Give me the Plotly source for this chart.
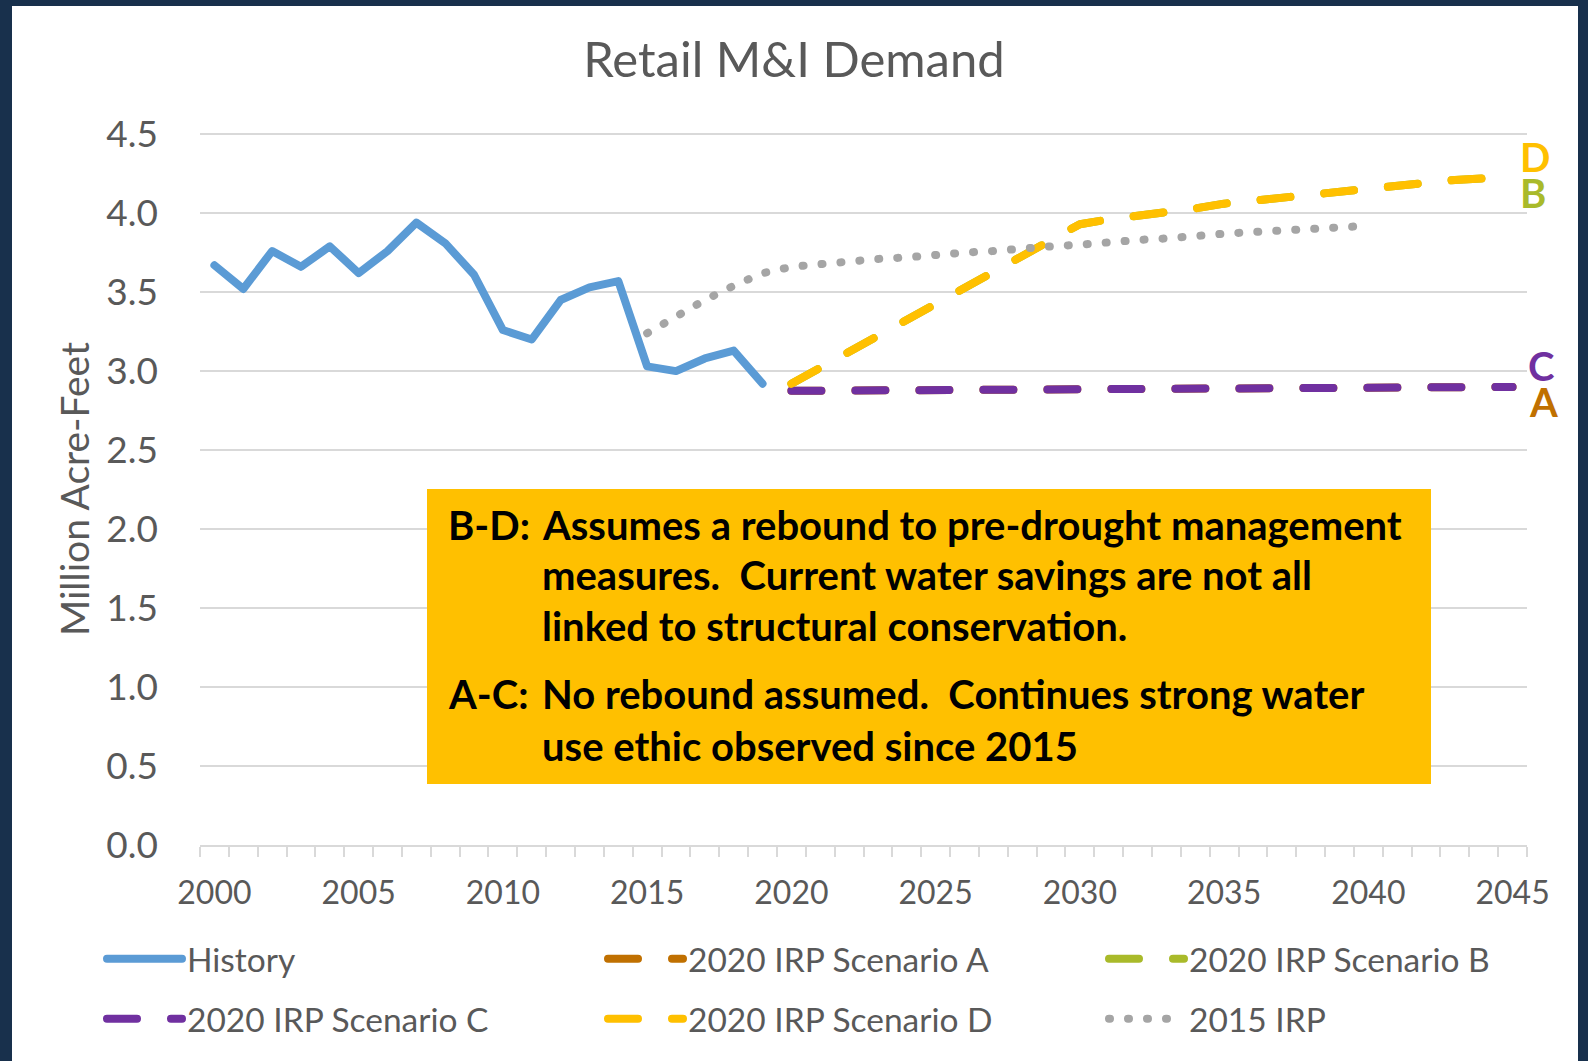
import plotly.graph_objects as go

# ---------------- data ----------------
hist_years = [2000, 2001, 2002, 2003, 2004, 2005, 2006, 2007, 2008, 2009,
              2010, 2011, 2012, 2013, 2014, 2015, 2016, 2017, 2018, 2019]
history = [3.67, 3.52, 3.76, 3.66, 3.79, 3.62, 3.76, 3.94, 3.81, 3.61,
           3.26, 3.20, 3.45, 3.53, 3.57, 3.03, 3.00, 3.08, 3.13, 2.92]

scen_years = [2020, 2021, 2022, 2023, 2024, 2025, 2026, 2027, 2028, 2029,
              2030, 2031, 2032, 2033, 2034, 2035, 2036, 2037, 2038, 2039,
              2040, 2041, 2042, 2043, 2044, 2045]
scen_a = [2.875, 2.876, 2.877, 2.878, 2.879, 2.880, 2.881, 2.882, 2.883, 2.884,
          2.885, 2.886, 2.887, 2.888, 2.889, 2.890, 2.891, 2.892, 2.893, 2.894,
          2.895, 2.896, 2.897, 2.898, 2.899, 2.900]
scen_b = [2.92, 3.02, 3.12, 3.22, 3.32, 3.42, 3.52, 3.62, 3.73, 3.83,
          3.93, 3.96, 3.98, 4.01, 4.03, 4.06, 4.08, 4.10, 4.12, 4.14,
          4.16, 4.18, 4.19, 4.21, 4.22, 4.24]
scen_c = [2.875, 2.876, 2.877, 2.878, 2.879, 2.880, 2.881, 2.882, 2.883, 2.884,
          2.885, 2.886, 2.887, 2.888, 2.889, 2.890, 2.891, 2.892, 2.893, 2.894,
          2.895, 2.896, 2.897, 2.898, 2.899, 2.900]
scen_d = [2.92, 3.02, 3.12, 3.22, 3.32, 3.42, 3.52, 3.62, 3.73, 3.83,
          3.93, 3.96, 3.98, 4.01, 4.03, 4.06, 4.08, 4.10, 4.12, 4.14,
          4.16, 4.18, 4.19, 4.21, 4.22, 4.24]

irp2015_years = [2015, 2016, 2017, 2018, 2019, 2020, 2021, 2022, 2023, 2024,
                 2025, 2026, 2027, 2028, 2029, 2030, 2031, 2032, 2033, 2034,
                 2035, 2036, 2037, 2038, 2039, 2040]
irp2015 = [3.24, 3.35, 3.45, 3.54, 3.62, 3.66, 3.68, 3.70, 3.71, 3.72,
           3.74, 3.75, 3.76, 3.78, 3.79, 3.80, 3.82, 3.83, 3.84, 3.86,
           3.87, 3.88, 3.89, 3.90, 3.92, 3.92]

x_tick_vals = [2000, 2005, 2010, 2015, 2020, 2025, 2030, 2035, 2040, 2045]
x_tick_text = ["2000", "2005", "2010", "2015", "2020", "2025", "2030", "2035", "2040", "2045"]
y_tick_vals = [0.0, 0.5, 1.0, 1.5, 2.0, 2.5, 3.0, 3.5, 4.0, 4.5]

series_names = ["History", "2020 IRP Scenario A", "2020 IRP Scenario B",
                "2020 IRP Scenario C", "2020 IRP Scenario D", "2015 IRP"]

note_lines_bd = ["Assumes a rebound to pre-drought management",
                 "measures.  Current water savings are not all",
                 "linked to structural conservation."]
note_lines_ac = ["No rebound assumed.  Continues strong water",
                 "use ethic observed since 2015"]

# ---------------- style ----------------
FONT = "Lato"
GRAY_TXT = "#595959"
C_HIST = "#5B9BD5"
C_A = "#C07000"
C_B = "#A9BA2A"
C_C = "#7030A0"
C_D = "#FFC000"
C_IRP = "#A5A5A5"
DASH = "30px,34px"
DOT = "1px,18px"

fig = go.Figure()
fig.add_trace(go.Scatter(x=hist_years, y=history, name=series_names[0], mode="lines",
                         line=dict(color=C_HIST, width=8), legend="legend"))
fig.add_trace(go.Scatter(x=scen_years, y=scen_a, name=series_names[1], mode="lines",
                         line=dict(color=C_A, width=8, dash=DASH), legend="legend"))
fig.add_trace(go.Scatter(x=scen_years, y=scen_b, name=series_names[2], mode="lines",
                         line=dict(color=C_B, width=8, dash=DASH), legend="legend"))
fig.add_trace(go.Scatter(x=scen_years, y=scen_c, name=series_names[3], mode="lines",
                         line=dict(color=C_C, width=8, dash=DASH), legend="legend2"))
fig.add_trace(go.Scatter(x=scen_years, y=scen_d, name=series_names[4], mode="lines",
                         line=dict(color=C_D, width=8, dash=DASH), legend="legend2"))
fig.add_trace(go.Scatter(x=irp2015_years, y=irp2015, name=series_names[5], mode="lines",
                         line=dict(color=C_IRP, width=8, dash=DOT), legend="legend2"))

W, H = 1588, 1061
ML, MR, MT, MB = 200, 61, 131, 216
PW = W - ML - MR
PH = H - MT - MB


def px_x(px):
    return (px - ML) / PW


def px_y(py):
    return (H - MB - py) / PH


minor_bounds = [v - 0.5 for v in range(2000, 2047)]

LEG_COMMON = dict(orientation="h", xref="paper", yref="paper",
                  x=px_x(102), xanchor="left", yanchor="middle",
                  entrywidth=411, entrywidthmode="pixels", itemwidth=75,
                  font=dict(family=FONT, size=33.5, color=GRAY_TXT),
                  bgcolor="rgba(0,0,0,0)", traceorder="normal")

fig.update_layout(
    width=W, height=H,
    margin=dict(l=ML, r=MR, t=MT, b=MB, pad=0, autoexpand=False),
    paper_bgcolor="#18304C",
    plot_bgcolor="white",
    font=dict(family=FONT, color=GRAY_TXT, size=32),
    title=dict(text="Retail M&I Demand", x=0.5, xref="container", xanchor="center",
               y=1 - 60 / H, yref="container", yanchor="middle",
               font=dict(family=FONT, size=49, color=GRAY_TXT)),
    showlegend=True,
    legend=dict(LEG_COMMON, y=px_y(959)),
    legend2=dict(LEG_COMMON, y=px_y(1019)),
    xaxis=dict(range=[1999.5, 2045.5], tickmode="array", tickvals=x_tick_vals,
               ticktext=x_tick_text, showgrid=False, zeroline=False, automargin=False,
               showline=True, linecolor="#D9D9D9", linewidth=2, ticks="",
               ticklabelstandoff=19,
               tickfont=dict(family=FONT, size=32, color=GRAY_TXT),
               minor=dict(tickmode="array", tickvals=minor_bounds, ticks="outside",
                          ticklen=10, tickwidth=1.5, tickcolor="#D9D9D9", showgrid=False)),
    yaxis=dict(range=[0, 4.52], tickmode="array", tickvals=y_tick_vals, tickformat=".1f",
               showgrid=True, gridcolor="#D9D9D9", gridwidth=1.5, zeroline=False,
               showline=False, ticks="", ticklabelstandoff=41, automargin=False,
               tickfont=dict(family=FONT, size=37, color=GRAY_TXT)),
    shapes=[
        # white chart area on the slide background
        dict(type="rect", xref="paper", yref="paper", x0=px_x(12), x1=px_x(1578),
             y0=px_y(1075), y1=px_y(6), fillcolor="white", line=dict(width=0), layer="below"),
        # note box
        dict(type="rect", xref="paper", yref="paper", x0=px_x(427), x1=px_x(1431),
             y0=px_y(784), y1=px_y(489), fillcolor="#FFC000", line=dict(width=0), layer="above"),
    ],
)

annotations = []
# y axis title
annotations.append(dict(text="Million Acre-Feet", xref="paper", yref="paper",
                        x=px_x(74), y=px_y(489), textangle=-90, showarrow=False,
                        xanchor="center", yanchor="middle",
                        font=dict(family=FONT, size=39, color=GRAY_TXT)))
# note text
NOTE_FONT = dict(family=FONT, size=40, color="black", weight="bold")
note_y = [525, 575, 626, 694, 746]
annotations.append(dict(text="<b>B-D:</b>", xref="paper", yref="paper", x=px_x(446), y=px_y(note_y[0]),
                        xanchor="left", yanchor="middle", showarrow=False, font=NOTE_FONT))
annotations.append(dict(text="<b>A-C:</b>", xref="paper", yref="paper", x=px_x(446), y=px_y(note_y[3]),
                        xanchor="left", yanchor="middle", showarrow=False, font=NOTE_FONT))
for i, line in enumerate(note_lines_bd):
    annotations.append(dict(text="<b>" + line + "</b>", xref="paper", yref="paper", x=px_x(540),
                            y=px_y(note_y[i]), xanchor="left", yanchor="middle",
                            showarrow=False, font=NOTE_FONT))
for i, line in enumerate(note_lines_ac):
    annotations.append(dict(text="<b>" + line + "</b>", xref="paper", yref="paper", x=px_x(540),
                            y=px_y(note_y[3 + i]), xanchor="left", yanchor="middle",
                            showarrow=False, font=NOTE_FONT))
# end labels
LBL = dict(family=FONT, size=40, weight="bold")
for letter, color, xp, yp in [("D", C_D, 1535, 157), ("B", C_B, 1533, 193),
                              ("C", C_C, 1541, 366), ("A", C_A, 1543, 402)]:
    annotations.append(dict(text="<b>" + letter + "</b>", xref="paper", yref="paper",
                            x=px_x(xp), y=px_y(yp), xanchor="center", yanchor="middle",
                            showarrow=False, font=dict(LBL, color=color)))
fig.update_layout(annotations=annotations)

post = ("var s=document.createElement('style');"
        "s.innerHTML='body{margin:0;} .js-line{stroke-linecap:round;stroke-linejoin:round;}';"
        "document.head.appendChild(s);")
fig.write_html("out.html", post_script=post, config={"displayModeBar": False})
